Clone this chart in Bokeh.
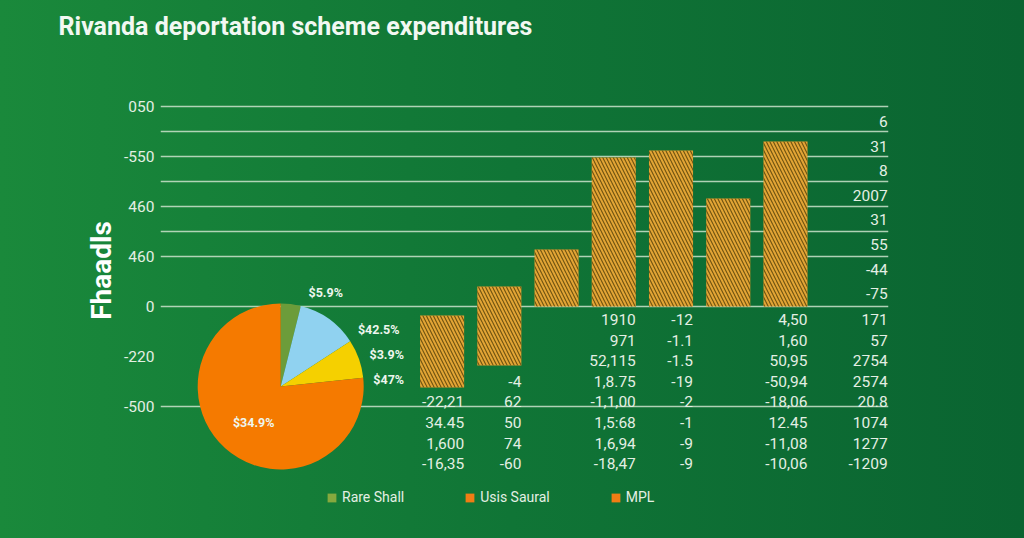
import numpy as np
from bokeh.plotting import figure
from bokeh.layouts import column
from bokeh.models import ColumnDataSource, Range1d, FixedTicker, Legend, LegendItem
from bokeh.embed import file_html
from bokeh.resources import INLINE
from bokeh.core.properties import value

# ---------------- data ----------------
title_text = "Rivanda deportation scheme expenditures"
y_axis_label = "Fhaadls"
y_tick_values = [400, 300, 200, 100, 0, -100, -200]
y_tick_labels = ["050", "-550", "460", "460", "0", "-220", "-500"]
grid_values = [400, 350, 300, 250, 200, 150, 100, 0, -200]

bar_index = [0, 1, 2, 3, 4, 5, 6]
bar_bottom = [-162, -118, 0, 0, 0, 0, 0]
bar_top = [-18, 40, 114, 298, 312, 216, 330]

pie_shares = [3.9, 11.9, 7.5, 76.7]
pie_colors = ["#6c9c3a", "#90d2f0", "#f5d000", "#f57a00"]
pie_labels = ["$5.9%", "$42.5%", "$3.9%", "$47%", "$34.9%"]

legend_labels = ["Rare Shall", "Usis Saural", "MPL"]
legend_colors = ["#86a93e", "#f07d14", "#f07d14"]

col_a = ["", "", "", "", "-22,21", "34.45", "1,600", "-16,35"]
col_b = ["", "", "", "-4", "62", "50", "74", "-60"]
col_c = ["1910", "971", "52,115", "1,8.75", "-1,1,00", "1,5:68", "1,6,94", "-18,47"]
col_d = ["-12", "-1.1", "-1.5", "-19", "-2", "-1", "-9", "-9"]
col_e = ["4,50", "1,60", "50,95", "-50,94", "-18,06", "12.45", "-11,08", "-10,06"]
col_f = ["171", "57", "2754", "2574", "20.8", "1074", "1277", "-1209"]
col_f_upper = ["6", "31", "8", "2007", "31", "55", "-44", "-75"]

# ---------------- layout / style ----------------
BAR_W = 0.77
TXT = "#e4efe4"
FONT = "Roboto"
GRAD = {"background": "linear-gradient(90deg, #1a893b 0%, #107536 50%, #0a6431 100%)"}

p = figure(width=1024, height=486, output_backend="svg", toolbar_location=None,
           x_range=Range1d(-4.92, 7.80), y_range=Range1d(-360, 504),
           x_axis_location=None, min_border_left=160, min_border_right=136,
           min_border_top=54, min_border_bottom=0, title=title_text)
p.background_fill_color = None
p.border_fill_color = None
p.outline_line_color = None
p.styles = GRAD

p.title.text_font = FONT
p.title.text_font_size = "25px"
p.title.text_font_style = "bold"
p.title.text_color = "#f2f8f2"
p.title.align = "left"
p.title.offset = -102
p.title.vertical_align = "top"
p.title.standoff = 23

p.xgrid.visible = False
p.ygrid.ticker = FixedTicker(ticks=grid_values)
p.ygrid.grid_line_color = "#cde3cd"
p.ygrid.grid_line_alpha = 0.85
p.ygrid.grid_line_width = 1.5

ax = p.yaxis[0]
ax.ticker = FixedTicker(ticks=y_tick_values)
ax.major_label_overrides = {v: s for v, s in zip(y_tick_values, y_tick_labels)}
ax.axis_line_color = None
ax.major_tick_line_color = None
ax.minor_tick_line_color = None
ax.major_label_standoff = 0
ax.major_label_text_font = FONT
ax.major_label_text_font_size = "15.5px"
ax.major_label_text_color = TXT
ax.axis_label = y_axis_label
ax.axis_label_text_font = FONT
ax.axis_label_text_font_size = "28px"
ax.axis_label_text_font_style = "bold"
ax.axis_label_text_color = "#ffffff"
ax.axis_label_standoff = 3

# bars
p.vbar(x=bar_index, bottom=bar_bottom, top=bar_top, width=BAR_W,
       fill_color="#e2a434", line_color=None,
       hatch_pattern="\\", hatch_color="#6e5210", hatch_scale=7, hatch_weight=1.1)

# pie
shares = np.array(pie_shares, dtype=float)
frac = shares / shares.sum()
cum = np.concatenate([[0.0], np.cumsum(frac)])
pie_cx, pie_cy = -2.82, -160
pie_src = ColumnDataSource(dict(
    start=np.pi / 2 - 2 * np.pi * cum[:-1],
    end=np.pi / 2 - 2 * np.pi * cum[1:],
    color=pie_colors,
))
p.wedge(x=pie_cx, y=pie_cy, radius=83, radius_units="screen",
        start_angle="start", end_angle="end", direction="clock",
        fill_color="color", line_color=None, source=pie_src)

pie_label_dx = [45, 98, 106, 108, -27]
pie_label_dy = [-94, -57, -32, -7, 36]
p.text(x=[pie_cx] * len(pie_labels), y=[pie_cy] * len(pie_labels), text=pie_labels,
       x_offset=pie_label_dx, y_offset=pie_label_dy,
       text_align="center", text_baseline="middle",
       text_font=value(FONT), text_font_size="12.5px", text_font_style="bold",
       text_color="#eef6ee")

# table of values
cols = [col_a, col_b, col_c, col_d, col_e, col_f]
col_slots = [0, 1, 3, 4, 6, 7.4]
tx, ty, tt = [], [], []
for slot, col in zip(col_slots, cols):
    for i, s in enumerate(col):
        if s:
            tx.append(slot + BAR_W / 2)
            ty.append(-26 - 41.2 * i)
            tt.append(s)
for i, s in enumerate(col_f_upper):
    tx.append(col_slots[-1] + BAR_W / 2)
    ty.append(370 - 49.2 * i)
    tt.append(s)
p.text(x=tx, y=ty, text=tt, text_align="right", text_baseline="middle",
       text_font=value(FONT), text_font_size="15.5px", text_color=TXT)

# legend strip below the chart (frame aligned with the chart's frame)
q = figure(width=1024, height=52, output_backend="svg", toolbar_location=None,
           x_axis_location=None, y_axis_location=None,
           x_range=Range1d(0, 1), y_range=Range1d(0, 1),
           min_border_left=160, min_border_right=136,
           min_border_top=0, min_border_bottom=0)
q.background_fill_color = None
q.border_fill_color = None
q.outline_line_color = None
q.grid.visible = False
q.styles = GRAD
rs = [q.quad(left=[np.nan], right=[np.nan], top=[np.nan], bottom=[np.nan],
             fill_color=c, line_color=None)
      for c in legend_colors]
items = [LegendItem(label=l, renderers=[r], index=0) for l, r in zip(legend_labels, rs)]
legend = Legend(items=items, orientation="horizontal", location=(166, 33),
                padding=0, margin=0, spacing=60, glyph_width=11, glyph_height=11,
                label_standoff=5, label_text_font=FONT, label_text_font_size="14px",
                label_text_color=TXT, background_fill_alpha=0, border_line_color=None)
q.add_layout(legend)

page = column(p, q, spacing=0)
open("out.html", "w").write(file_html(page, INLINE))
